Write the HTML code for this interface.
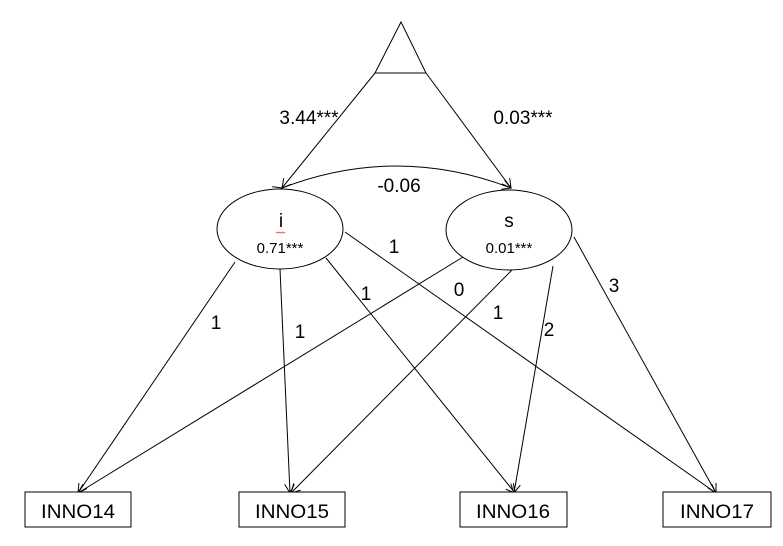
<!DOCTYPE html>
<html><head><style>
html,body{margin:0;padding:0;background:#fff;}
svg{display:block;font-family:"Liberation Sans",Calibri,sans-serif;}
</style></head><body>
<svg width="783" height="546" viewBox="0 0 783 546" xmlns="http://www.w3.org/2000/svg">
<defs>
<marker id="a" markerWidth="10" markerHeight="10" refX="9" refY="5" orient="auto" markerUnits="userSpaceOnUse">
<path d="M0,0 L9,5 L0,10" fill="none" stroke="#000" stroke-width="1"/>
</marker>
</defs>
<g stroke="#000" stroke-width="1" fill="none">
<path d="M401,22 L375,73 L426,73 Z" fill="#fff"/>
<line x1="375" y1="73" x2="282" y2="188" marker-end="url(#a)"/>
<line x1="426" y1="73" x2="511" y2="188" marker-end="url(#a)"/>
<path d="M282,188 Q396,144 511,188" marker-start="url(#a)" marker-end="url(#a)"/>
<ellipse cx="280" cy="229" rx="63" ry="40" fill="#fff"/>
<ellipse cx="509" cy="230" rx="63" ry="40" fill="#fff"/>
<line x1="235" y1="262" x2="78" y2="493" marker-end="url(#a)"/>
<line x1="280" y1="269" x2="290" y2="493" marker-end="url(#a)"/>
<line x1="326" y1="258" x2="515" y2="493" marker-end="url(#a)"/>
<line x1="345" y1="232" x2="716" y2="493" marker-end="url(#a)"/>
<line x1="463" y1="257" x2="78" y2="493" marker-end="url(#a)"/>
<line x1="512" y1="270" x2="291" y2="493" marker-end="url(#a)"/>
<line x1="553" y1="266" x2="514" y2="493" marker-end="url(#a)"/>
<line x1="574" y1="237" x2="716" y2="493" marker-end="url(#a)"/>
<rect x="25" y="492" width="106" height="35" fill="#fff"/>
<rect x="239" y="492" width="106" height="35" fill="#fff"/>
<rect x="460" y="492" width="107" height="35" fill="#fff"/>
<rect x="663" y="492" width="108" height="35" fill="#fff"/>
</g>
<g fill="#000" font-size="19" text-anchor="middle">
<text x="309" y="124">3.44***</text>
<text x="523" y="124">0.03***</text>
<text x="399" y="192">-0.06</text>
<text x="281" y="227">i</text>
<text x="509" y="227">s</text>
<text x="394" y="253">1</text>
<text x="216" y="329">1</text>
<text x="300" y="338">1</text>
<text x="366" y="300">1</text>
<text x="459" y="296">0</text>
<text x="498" y="319">1</text>
<text x="549" y="336">2</text>
<text x="614" y="292">3</text>
<text x="78" y="518" textLength="74" lengthAdjust="spacingAndGlyphs">INNO14</text>
<text x="292" y="518" textLength="74" lengthAdjust="spacingAndGlyphs">INNO15</text>
<text x="513" y="518" textLength="74" lengthAdjust="spacingAndGlyphs">INNO16</text>
<text x="717" y="518" textLength="74" lengthAdjust="spacingAndGlyphs">INNO17</text>
</g>
<g fill="#000" font-size="15" text-anchor="middle">
<text x="280" y="253">0.71***</text>
<text x="509" y="253">0.01***</text>
</g>
<path d="M276,232 q1.5,2 3,0 q1.5,2 3,0 q1.5,2 3,0" stroke="#e33" stroke-width="0.8" fill="none"/>
</svg>
</body></html>
